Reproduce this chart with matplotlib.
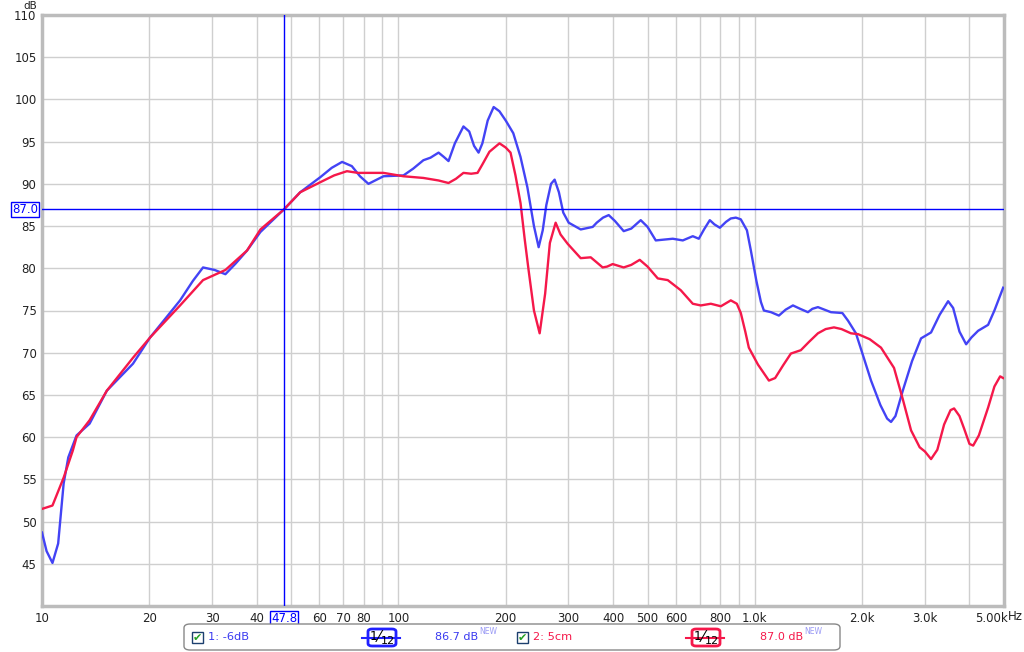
import numpy as np
import matplotlib.pyplot as plt
import matplotlib.transforms as mtransforms
from matplotlib.patches import FancyBboxPatch, Rectangle
from matplotlib.lines import Line2D

# Curve 1: "1: -6dB" (blue), frequency in Hz and level in dB
blue_f = [10.0, 10.3, 10.7, 11.1, 11.5, 11.85, 12.5, 13.6, 15.2, 18.0, 20.1, 24.4, 26.5,
          28.3, 30.5, 32.7, 35.0, 37.6, 41.0, 47.8, 53.0, 60.4, 65.0, 69.5, 74.0, 78.0,
          82.4, 86.0, 90.8, 103.3, 110, 117.5, 123, 129.6, 134, 138.2, 144, 152.2, 158,
          163, 167.8, 172, 178, 185, 192, 200, 210, 220, 230, 240, 247.4, 254, 260, 268,
          274.3, 282, 290, 300.4, 324.6, 350.8, 360, 375, 389, 405, 428.5, 450, 478.4,
          500, 527.2, 588.4, 627.8, 669.6, 696.2, 720, 747.5, 770, 797.5, 830, 856,
          884.3, 913, 950, 974.5, 1010, 1040, 1060, 1110, 1168, 1220, 1279, 1340, 1409,
          1450, 1503, 1635, 1760, 1825, 1921, 2000, 2118, 2250, 2350, 2410, 2480, 2600,
          2760, 2926, 3121, 3300, 3485, 3600, 3750, 3915, 4050, 4231, 4512, 4700, 4973]
blue_db = [48.7, 46.5, 45.1, 47.4, 54.5, 57.6, 60.2, 61.6, 65.5, 68.7, 71.8, 76.2, 78.5,
           80.1, 79.8, 79.3, 80.6, 82.1, 84.3, 87.0, 89.0, 90.8, 91.9, 92.6, 92.1, 90.9,
           90.0, 90.4, 90.9, 91.0, 91.8, 92.8, 93.1, 93.7, 93.2, 92.7, 94.8, 96.8, 96.2,
           94.5, 93.7, 94.8, 97.5, 99.1, 98.6, 97.5, 96.0, 93.2, 89.6, 85.0, 82.5, 84.5,
           87.5, 90.0, 90.5, 89.0, 86.6, 85.4, 84.6, 84.9, 85.4, 86.0, 86.3, 85.6, 84.4,
           84.7, 85.7, 84.9, 83.3, 83.5, 83.3, 83.8, 83.5, 84.6, 85.7, 85.2, 84.8, 85.5,
           85.9, 86.0, 85.8, 84.5, 82.1, 78.5, 76.0, 75.0, 74.8, 74.4, 75.1, 75.6, 75.2,
           74.8, 75.2, 75.4, 74.8, 74.7, 73.8, 72.3, 70.0, 66.7, 63.8, 62.2, 61.8, 62.5,
           65.5, 69.0, 71.7, 72.4, 74.5, 76.1, 75.3, 72.5, 71.0, 71.8, 72.6, 73.3, 75.0,
           77.7]

# Curve 2: "2: 5cm" (red)
red_f = [10.0, 10.7, 11.5, 12.2, 12.5, 13.6, 15.2, 18.0, 20.1, 24.4, 28.3, 32.7, 37.6,
         41.0, 47.8, 53.0, 60.4, 66.0, 71.7, 77.0, 82.4, 90.8, 103.3, 117.5, 129.6, 138.2,
         145, 152.2, 160, 166.7, 172, 180, 192.1, 200, 206.3, 213, 220.1, 226, 231.8, 240,
         249.0, 258, 266, 276.1, 285, 298.4, 324.6, 346.3, 360, 374.1, 385, 399.1, 428.5,
         450, 475.3, 500, 534.1, 569.6, 619.6, 669.6, 705.3, 752.4, 802.7, 856.1, 890,
         913.2, 940, 961.8, 1020, 1095, 1140, 1200, 1262, 1346, 1420, 1503, 1580, 1667,
         1750, 1860, 1947, 2100, 2259, 2457, 2600, 2743, 2900, 3000, 3121, 3250, 3396,
         3540, 3622, 3750, 3865, 4000, 4097, 4250, 4512, 4700, 4877, 4973]
red_db = [51.5, 51.9, 55.2, 58.4, 60.0, 62.0, 65.5, 69.4, 71.8, 75.6, 78.6, 79.8, 82.1,
          84.6, 87.0, 89.0, 90.2, 91.0, 91.5, 91.3, 91.3, 91.3, 90.9, 90.7, 90.4, 90.1,
          90.6, 91.3, 91.2, 91.3, 92.3, 93.8, 94.8, 94.3, 93.7, 91.0, 87.7, 83.5, 79.8,
          75.0, 72.3, 77.0, 83.0, 85.4, 84.0, 82.9, 81.2, 81.3, 80.7, 80.1, 80.2, 80.5,
          80.1, 80.4, 81.0, 80.2, 78.8, 78.6, 77.4, 75.8, 75.6, 75.8, 75.5, 76.2, 75.8,
          74.7, 72.5, 70.6, 68.6, 66.7, 67.0, 68.5, 69.9, 70.3, 71.3, 72.3, 72.8, 73.0,
          72.8, 72.3, 72.2, 71.6, 70.6, 68.2, 64.5, 60.8, 58.8, 58.3, 57.4, 58.5, 61.5,
          63.2, 63.4, 62.5, 61.0, 59.2, 59.0, 60.2, 63.5, 66.0, 67.2, 67.0]

cursor_f = 47.8
cursor_db = 87.0

x_ticks = [10, 20, 30, 40, 60, 70, 80, 100, 200, 300, 400, 500, 600, 800, 1000, 2000, 3000, 5000]
x_labels = ["10", "20", "30", "40", "60", "70", "80", "100", "200", "300", "400", "500",
            "600", "800", "1.0k", "2.0k", "3.0k", "5.00k"]
x_grid = [10, 20, 30, 40, 50, 60, 70, 80, 90, 100, 200, 300, 400, 500, 600, 700, 800, 900,
          1000, 2000, 3000, 4000, 5000]
y_ticks = list(range(45, 111, 5))

blue = '#4343f5'
red = '#f5184a'
cur = '#0000ff'

fig = plt.figure(figsize=(10.24, 6.52), dpi=100)
W, H = 1024, 652
ax = fig.add_axes([42 / W, (H - 606) / H, (1004 - 42) / W, (606 - 15) / H])
ax.set_xscale('log')
ax.set_xlim(10, 5000)
ax.set_ylim(40, 110)

for g in x_grid:
    ax.axvline(g, color='#cfcfcf', lw=1.0, zorder=1)
for g in y_ticks[:-1]:
    ax.axhline(g, color='#cfcfcf', lw=1.0, zorder=1)

ax.plot(blue_f, blue_db, color=blue, lw=1.7, zorder=3, solid_joinstyle='round')
ax.plot(red_f, red_db, color=red, lw=1.7, zorder=4, solid_joinstyle='round')

ax.axvline(cursor_f, color=cur, lw=1.0, zorder=5)
ax.axhline(cursor_db, color=cur, lw=1.0, zorder=5)

ax.set_xticks(x_ticks)
ax.set_xticklabels(x_labels)
ax.set_xticks([], minor=True)
ax.set_yticks(y_ticks)
ax.set_yticklabels([str(v) for v in y_ticks])
ax.tick_params(length=0, labelsize=8.5, colors='#222222', pad=4)
ax.tick_params(axis='y', pad=4)
last = ax.get_xticklabels()[-1]
last.set_ha('right')
last.set_transform(last.get_transform() + mtransforms.ScaledTranslation(3 / 72, 0, fig.dpi_scale_trans))
fig.text(1008 / W, 1 - 617 / H, "Hz", fontsize=8.5, color='#222222', va='center')
for sp in ax.spines.values():
    sp.set_color('#bcbcbc')
    sp.set_linewidth(2.5)

# cursor value boxes
ax.text(cursor_f, -0.01, "47.8", transform=ax.get_xaxis_transform(), ha='center', va='top',
        fontsize=8.5, color=cur,
        bbox=dict(boxstyle='square,pad=0.1', fc='white', ec=cur, lw=1.0))
ax.text(-0.004, cursor_db, "87.0", transform=ax.get_yaxis_transform(), ha='right', va='center',
        fontsize=8.5, color=cur,
        bbox=dict(boxstyle='square,pad=0.1', fc='white', ec=cur, lw=1.0))
fig.text(23 / W, 1 - 9 / H, "dB", fontsize=7.5, color='#222222', va='baseline')

# legend bar
def px(x, y):
    return x / W, 1 - y / H

bx, by = px(184, 650)
fig.patches.append(FancyBboxPatch((bx, by), (840 - 184) / W, 26 / H,
                                  boxstyle='round,pad=0,rounding_size=0.006',
                                  transform=fig.transFigure, fc='white', ec='#888888', lw=1.0))

def checkbox(x):
    x0, y0 = px(x, 643)
    fig.patches.append(Rectangle((x0, y0), 11 / W, 11 / H, transform=fig.transFigure,
                                 fc='white', ec='#1c3f6e', lw=1.0))
    fig.text(x0 + 5.5 / W, y0 + 5.5 / H, "\u2714", color='#22a022', fontsize=8,
             ha='center', va='center')

def filt(x, color):
    x0, y0 = px(x, 646)
    fig.add_artist(Line2D([(x - 6) / W, (x + 32) / W], [y0 + 8.5 / H, y0 + 8.5 / H],
                          color=color, lw=1.5, transform=fig.transFigure))
    fig.patches.append(FancyBboxPatch((x0, y0), 28 / W, 17 / H,
                                      boxstyle='round,pad=0,rounding_size=0.004',
                                      transform=fig.transFigure, fc='white', ec=color, lw=2.0))
    fig.text(x0 + 6 / W, y0 + 10 / H, "1", fontsize=9, color='black', ha='center', va='center')
    fig.text(x0 + 11 / W, y0 + 9 / H, "\u2044", fontsize=11, color='black', ha='center',
             va='center')
    fig.text(x0 + 20 / W, y0 + 5.5 / H, "12", fontsize=8, color='black', ha='center',
             va='center')

checkbox(192)
fig.text(*px(208, 637), "1: -6dB", fontsize=8.2, color='#3a3af0', va='center')
filt(368, '#2020ff')
fig.text(*px(435, 637), "86.7 dB", fontsize=8, color='#3a3af0', va='center')
fig.text(*px(479, 632), "NEW", fontsize=5.5, color='#9a9af5', va='center')

checkbox(517)
fig.text(*px(533, 637), "2: 5cm", fontsize=8.2, color=red, va='center')
filt(692, red)
fig.text(*px(760, 637), "87.0 dB", fontsize=8, color=red, va='center')
fig.text(*px(804, 632), "NEW", fontsize=5.5, color='#9a9af5', va='center')

fig.savefig('out.png', dpi=100, facecolor='white')
